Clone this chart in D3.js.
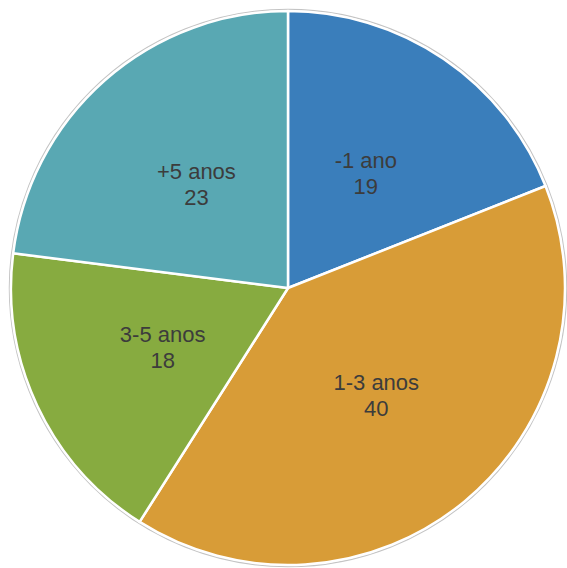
<!DOCTYPE html>
<html>
<head>
<meta charset="utf-8">
<script src="https://cdn.jsdelivr.net/npm/d3@7.9.0/dist/d3.min.js"></script>
<style>
  html, body { margin: 0; padding: 0; background: #fff; }
  svg { display: block; }
</style>
</head>
<body>
<svg id="pie" width="567" height="568"></svg>
<script>
// data
const labels = ['-1 ano', '1-3 anos', '3-5 anos', '+5 anos'];
const values = [19, 40, 18, 23];
const colors = ['#3a7ebb', '#d89c37', '#87ab40', '#59a8b3'];

const width = 567, height = 568;
const cx = 288, cy = 288, radius = 277;

const svg = d3.select('#pie');
const g = svg.append('g').attr('transform', `translate(${cx},${cy})`);

const data = labels.map((label, i) => ({ label, value: values[i], color: colors[i] }));

// pie layout, clockwise from 12 o'clock, keep input order
const sliceGenerator = d3.pie().value(d => d.value).sort(null);
const arcData = sliceGenerator(data);
const arcGenerator = d3.arc().innerRadius(0).outerRadius(radius);

// outer grey rim
g.append('circle')
  .attr('r', radius + 1.5)
  .attr('fill', 'none')
  .attr('stroke', '#c4c4c4')
  .attr('stroke-width', 1.5);

g.selectAll('path')
  .data(arcData)
  .join('path')
  .attr('d', arcGenerator)
  .attr('fill', d => d.data.color)
  .attr('stroke', '#fff')
  .attr('stroke-width', 2.5)
  .attr('stroke-linejoin', 'round');

// labels at centroids
const labelArc = d3.arc().innerRadius(0).outerRadius(radius);
const lbl = g.selectAll('text')
  .data(arcData)
  .join('text')
  .attr('transform', d => `translate(${labelArc.centroid(d)})`)
  .attr('text-anchor', 'middle')
  .attr('font-family', 'Arial, "Liberation Sans", sans-serif')
  .attr('font-size', 22)
  .attr('fill', '#3c3c3c');

lbl.append('tspan').attr('x', 0).attr('y', -5).text(d => d.data.label);
lbl.append('tspan').attr('x', 0).attr('y', 21).text(d => d.data.value);
</script>
</body>
</html>
